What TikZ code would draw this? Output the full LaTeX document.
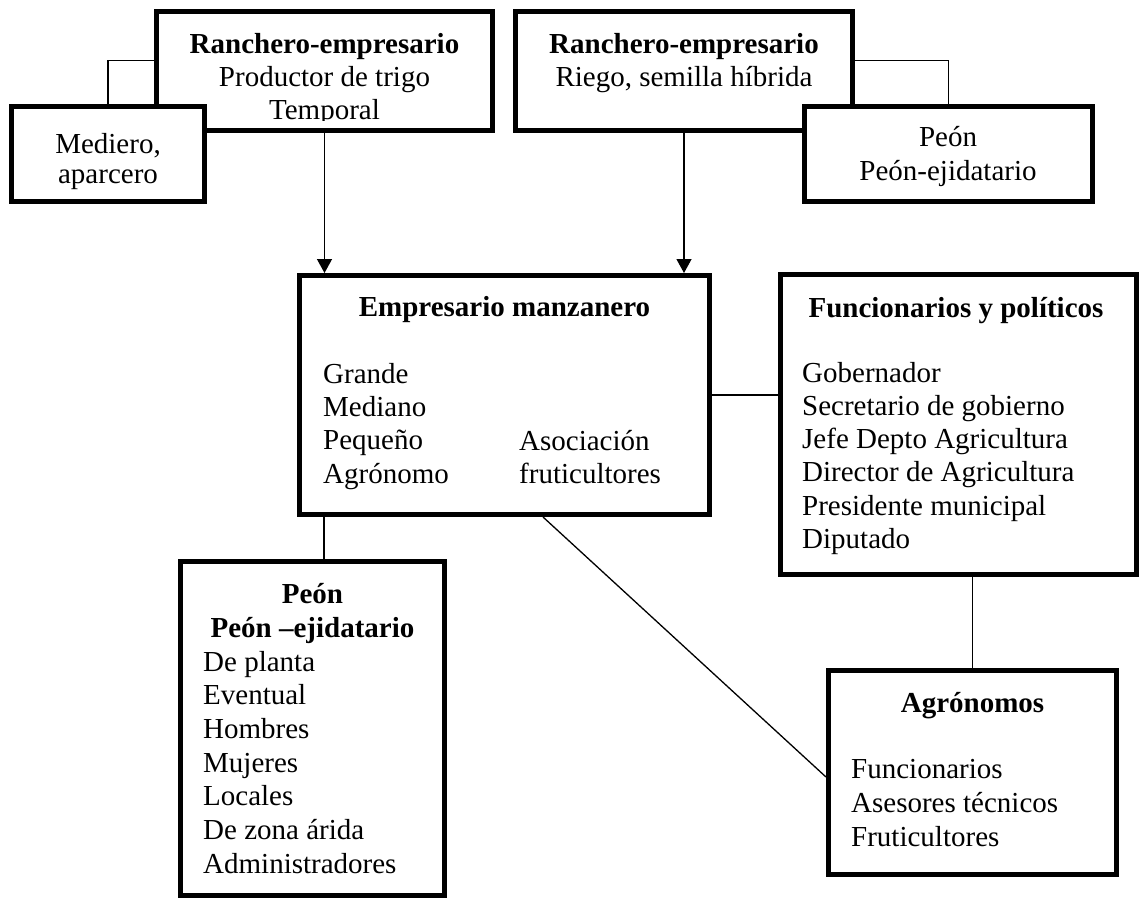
\documentclass[tikz,border=0pt]{standalone}
\usepackage{fontspec}
\setmainfont{Liberation Serif}
\usetikzlibrary{arrows.meta}
\begin{document}
\begin{tikzpicture}[x=1pt,y=-1pt,
  box/.style={draw,line width=5pt,fill=white,inner sep=0pt},
  txt/.style={inner sep=0pt,font=\fontsize{29}{33.5}\selectfont},
  bt/.style={inner sep=0pt,font=\fontsize{29}{33.5}\selectfont\bfseries},
  conn/.style={line width=1.3pt},
  arr/.style={conn,-{Triangle[length=14pt,width=15pt]}}]
\useasboundingbox (0,0) rectangle (1139,899);
\fill[white] (0,0) rectangle (1139,899);

% top boxes
\node[box,minimum width=336pt,minimum height=118.5pt] (r1) at (324.5,71.25) {};
\node[box,minimum width=337pt,minimum height=118.5pt] (r2) at (684,71.25) {};
\begin{scope}
  \clip (157,12) rectangle (492,120.5);
  \node[bt,anchor=base] (r1a) at (324.5,53) {Ranchero-empresario};
  \node[txt,anchor=base] (r1b) at (324.5,86) {Productor de trigo};
  \node[txt,anchor=base] (r1c) at (324.5,119) {Temporal};
\end{scope}
\node[bt,anchor=base] (r2a) at (684,53) {Ranchero-empresario};
\node[txt,anchor=base] (r2b) at (684,86) {Riego, semilla híbrida};

\draw[conn] ([yshift=11pt]r1.west) -| (108,104);
\draw[conn] ([yshift=11pt]r2.east) -| (948.5,104);

\node[box,minimum width=193pt,minimum height=95pt] (med) at (108,154) {};
\node[txt,anchor=base] (meda) at (108,153) {Mediero,};
\node[txt,anchor=base] (medb) at (108,183) {aparcero};

\node[box,minimum width=288pt,minimum height=95pt] (peon) at (948.5,154) {};
\node[txt,anchor=base] (peona) at (948,146) {Peón};
\node[txt,anchor=base] (peonb) at (948,180) {Peón-ejidatario};

% Empresario manzanero
\node[box,minimum width=410pt,minimum height=239pt] (emp) at (504.5,395) {};
\node[bt,anchor=base] (empt) at (504.5,316) {Empresario manzanero};
\foreach \t [count=\i from 0] in {Grande,Mediano,Pequeño,Agrónomo}
  \node[txt,anchor=base west] (el\i) at (323,{383+33.4*\i}) {\t};
\node[txt,anchor=base west] (er0) at (519,450) {Asociación};
\node[txt,anchor=base west] (er1) at (519,483.4) {fruticultores};

% Funcionarios y politicos
\node[box,minimum width=356pt,minimum height=300pt] (fun) at (958,424.5) {};
\node[bt,anchor=base] (funt) at (956,317) {Funcionarios y políticos};
\foreach \t [count=\i from 0] in {Gobernador,Secretario de gobierno,Jefe Depto Agricultura,Director de Agricultura,Presidente municipal,Diputado}
  \node[txt,anchor=base west] (fl\i) at (802,{382+33.3*\i}) {\t};

% Agronomos
\node[box,minimum width=288pt,minimum height=204pt] (agr) at (972.5,772.5) {};
\node[bt,anchor=base] (agrt) at (972.5,712) {Agrónomos};
\foreach \t [count=\i from 0] in {Funcionarios,Asesores técnicos,Fruticultores}
  \node[txt,anchor=base west] (al\i) at (851,{778+34*\i}) {\t};

% Peon box
\node[box,minimum width=264pt,minimum height=334pt] (pb) at (312.5,728.5) {};
\node[bt,anchor=base] (pbt1) at (312.5,603) {Peón};
\node[bt,anchor=base] (pbt2) at (312.5,637) {Peón –ejidatario};
\foreach \t [count=\i from 0] in {De planta,Eventual,Hombres,Mujeres,Locales,De zona árida,Administradores}
  \node[txt,anchor=base west] (pl\i) at (203,{671+33.7*\i}) {\t};

% connectors
\draw[arr] (r1.south) -- (r1.south |- emp.north);
\draw[arr] (r2.south) -- (r2.south |- emp.north);
\draw[conn] (emp.east) -- (emp.east -| fun.west);
\draw[conn] ([xshift=11.5pt]pb.north) -- ([xshift=11.5pt]pb.north |- emp.south);
\draw[conn] (agr.north) -- (agr.north |- fun.south);
\draw[conn] ([xshift=38.5pt]emp.south) -- ([yshift=-4.5pt]agr.west);
\end{tikzpicture}
\end{document}
